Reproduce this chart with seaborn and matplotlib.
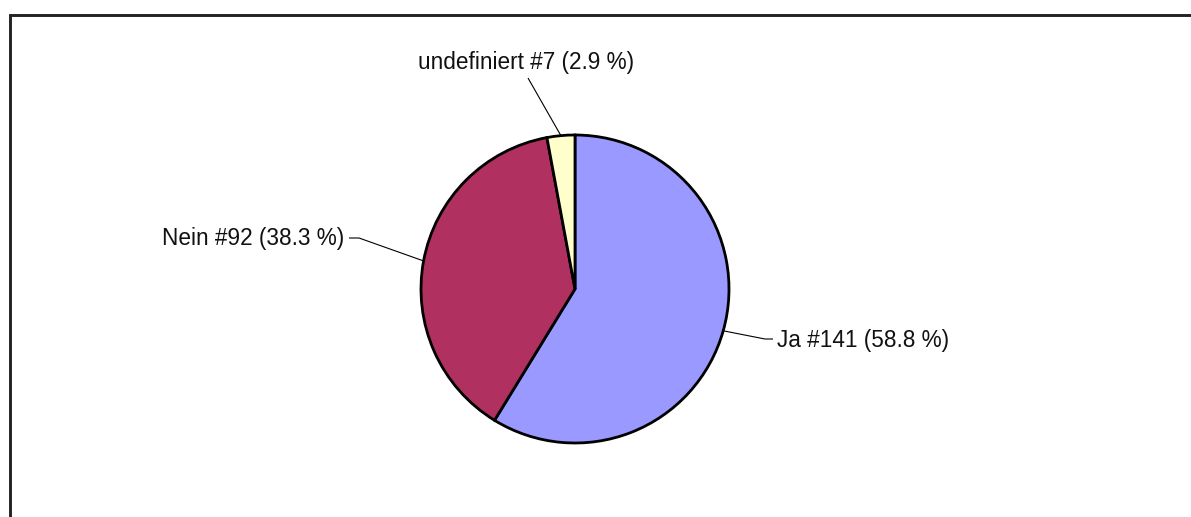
import matplotlib
matplotlib.use("Agg")
import matplotlib.pyplot as plt
from matplotlib.lines import Line2D
import numpy as np
import seaborn as sns

# Survey answers
categories = ["Ja", "Nein", "undefiniert"]
counts = [141, 92, 7]
colors = ["#9999FF", "#B03060", "#FFFFCC"]

sns.set_theme(style="white")
plt.rcParams["font.family"] = ["Liberation Sans", "DejaVu Sans"]

W, H = 1191, 517
fig = plt.figure(figsize=(W / 100, H / 100), dpi=100)
ax = fig.add_axes([0, 0, 1, 1])

# pixel-like data space, y measured from the top via H - y
cx, cy, r = 575, H - 289, 154
wedges, _ = ax.pie(
    counts,
    colors=colors,
    startangle=90,
    counterclock=False,
    center=(cx, cy),
    radius=r,
    frame=True,
    wedgeprops=dict(edgecolor="black", linewidth=2.0),
)
ax.set_xlim(0, W)
ax.set_ylim(0, H)
ax.set_aspect("equal")
ax.axis("off")

total = sum(counts)
labels = [f"{c} #{n} ({100 * n / total:.1f} %)" for c, n in zip(categories, counts)]

# label placement: (leader points after the wedge anchor, text position, alignment)
layout = {
    "Ja": ([(765, 339), (773, 339)], (777, 340), "left"),
    "Nein": ([(359, 238), (349, 238)], (344, 238), "right"),
    "undefiniert": ([(528, 78)], (526, 63), "center"),
}

for wedge, cat, lab in zip(wedges, categories, labels):
    mid = np.deg2rad((wedge.theta1 + wedge.theta2) / 2)
    ax_pt = (cx + r * np.cos(mid), cy + r * np.sin(mid))
    pts, (tx, ty), ha = layout[cat]
    xs = [ax_pt[0]] + [p[0] for p in pts]
    ys = [ax_pt[1]] + [H - p[1] for p in pts]
    ax.plot(xs, ys, color="black", linewidth=0.8, solid_capstyle="butt")
    ax.text(tx, H - ty, lab, ha=ha, va="center", fontsize=16.3, color="#111111")

# outer frame (top and left edges)
frame_y = (H - 14.5) / H
frame_x = 9.5 / W
fig.add_artist(Line2D([frame_x, frame_x, 1], [0, frame_y, frame_y], color="#222222",
                      linewidth=2.1, solid_joinstyle="miter", transform=fig.transFigure))

fig.savefig("out.png", dpi=100, facecolor="white")
